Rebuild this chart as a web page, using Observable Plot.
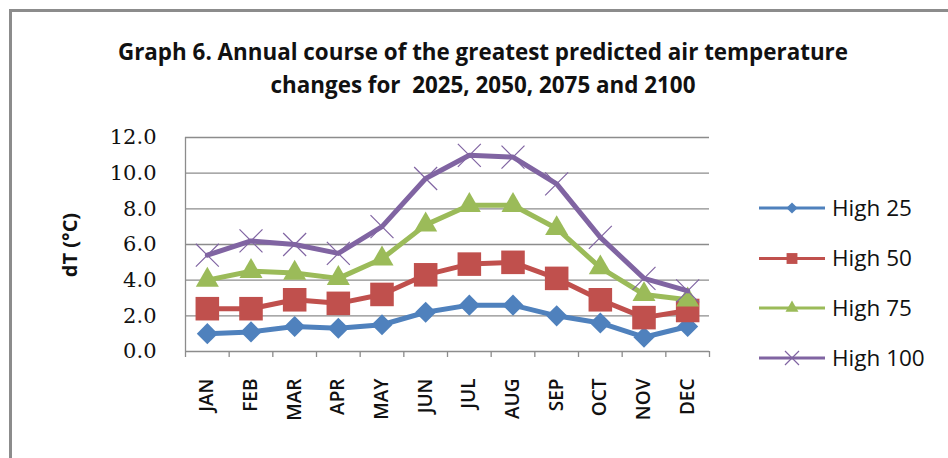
<!DOCTYPE html>
<html><head><meta charset="utf-8">
<script src="https://cdn.jsdelivr.net/npm/d3@7"></script>
<script src="https://cdn.jsdelivr.net/npm/@observablehq/plot@0.6"></script>
<style>
body{margin:0;background:#fff;}
#wrap{position:relative;width:948px;height:458px;overflow:hidden;background:#fff;}
#frame{position:absolute;left:8.5px;top:8.5px;width:980px;height:480px;border-left:3px solid #8c8c8c;border-top:3px solid #8c8c8c;}
#title{position:absolute;left:0;width:966px;top:35px;text-align:center;font-family:"Open Sans";font-weight:700;font-size:22.4px;line-height:33px;color:#111;}
#chart{position:absolute;left:0;top:0;}
#ylabel{position:absolute;left:69px;top:245px;transform:translate(-50%,-50%) rotate(-90deg);font-family:"Open Sans";font-weight:700;font-size:20px;white-space:nowrap;color:#111;}
#legend{position:absolute;left:0;top:0;}
</style></head><body>
<div id="wrap">
<div id="frame"></div>
<div id="title">Graph 6. Annual course of the greatest predicted air temperature<br>changes for&nbsp; 2025, 2050, 2075 and 2100</div>
<div id="chart"></div>
<div id="ylabel">dT (°C)</div>
<div id="legend"></div>
</div>
<script>
// ---- data ----
const months = ["JAN","FEB","MAR","APR","MAY","JUN","JUL","AUG","SEP","OCT","NOV","DEC"];
const seriesNames = ["High 25","High 50","High 75","High 100"];
const high25  = [1.0, 1.1, 1.4, 1.3, 1.5, 2.2, 2.6, 2.6, 2.0, 1.6, 0.8, 1.4];
const high50  = [2.4, 2.4, 2.9, 2.7, 3.2, 4.3, 4.9, 5.0, 4.1, 2.9, 1.9, 2.3];
const high75  = [4.0, 4.5, 4.4, 4.1, 5.2, 7.1, 8.2, 8.2, 6.9, 4.7, 3.2, 2.9];
const high100 = [5.4, 6.2, 6.0, 5.5, 7.0, 9.7, 11.0, 10.9, 9.4, 6.4, 4.1, 3.4];
const yTicks = [0, 2, 4, 6, 8, 10, 12];

// ---- styles ----
const colors = ["#4F81BD", "#C0504D", "#9BBB59", "#8064A2"];
const symbols = ["diamond2", "square2", "triangle2", "times"];
const radii = [9.5, 15, 11, 10.5];

const seriesVals = [high25, high50, high75, high100];
const idx = months.map((_, i) => i);
const bounds = d3.range(months.length + 1).map(i => i - 0.5);
const grid = "#8c8c8c";

const marks = [
  Plot.ruleY(yTicks.slice(1), {stroke: grid, strokeWidth: 1.3, strokeOpacity: 1}),
  Plot.ruleX([-0.5], {stroke: grid, strokeWidth: 1.3, strokeOpacity: 1}),
  Plot.ruleY([0], {stroke: grid, strokeWidth: 1.3, strokeOpacity: 1}),
  Plot.axisY(yTicks, {tickSize: 0, tickPadding: 29, tickFormat: d => d.toFixed(1),
    fontSize: 21, fontFamily: "DejaVu Serif", fill: "#111", label: null}),
  Plot.axisX(bounds, {tickSize: 6, tickFormat: () => "", stroke: grid, strokeWidth: 1.3, strokeOpacity: 1, label: null}),
  Plot.axisX(idx, {tickSize: 0, tickPadding: 27, tickRotate: -90, tickFormat: i => months[i],
    fontSize: 19, fontFamily: "Open Sans", fontWeight: 600, fill: "#111", label: null, style: "letter-spacing:1.5px"})
];

seriesVals.forEach((vals, s) => {
  const rows = vals.map((v, i) => ({i, v}));
  marks.push(Plot.line(rows, {x: "i", y: "v", stroke: colors[s], strokeWidth: 5, curve: "linear"}));
  if (symbols[s] === "times") {
    marks.push(Plot.dot(rows, {x: "i", y: "v", symbol: "times", r: radii[s], stroke: colors[s], strokeWidth: 1.2, fill: "none"}));
  } else {
    marks.push(Plot.dot(rows, {x: "i", y: "v", symbol: symbols[s], r: radii[s], fill: colors[s], stroke: "none"}));
  }
});

const chart = Plot.plot({
  width: 948, height: 458,
  marginLeft: 185, marginRight: 239, marginTop: 137, marginBottom: 107,
  x: {type: "linear", domain: [-0.5, months.length - 0.5]},
  y: {type: "linear", domain: [0, 12]},
  style: {background: "transparent", overflow: "visible"},
  marks
});
document.getElementById("chart").appendChild(chart);

// ---- legend ----
const lg = d3.select("#legend").append("svg").attr("width", 948).attr("height", 458);
const legY = [208, 258.5, 308, 358];
const legSym = [d3.symbolDiamond2, d3.symbolSquare2, d3.symbolTriangle2, d3.symbolTimes];
const legSize = [80, 150, 120, 130];
seriesNames.forEach((name, s) => {
  const g = lg.append("g").attr("transform", `translate(0,${legY[s]})`);
  g.append("line").attr("x1", 759).attr("x2", 825).attr("y1", 0).attr("y2", 0)
    .attr("stroke", colors[s]).attr("stroke-width", 3);
  const p = g.append("path").attr("d", d3.symbol(legSym[s], legSize[s])())
    .attr("transform", "translate(792,0)");
  if (s === 3) p.attr("fill", "none").attr("stroke", colors[s]).attr("stroke-width", 1.2);
  else p.attr("fill", colors[s]);
  g.append("text").attr("x", 832).attr("y", 0).attr("dy", "0.35em")
    .attr("font-family", "Open Sans").attr("font-weight", 500).attr("font-size", 22.5).attr("fill", "#111").text(name);
});
</script>
</body></html>
